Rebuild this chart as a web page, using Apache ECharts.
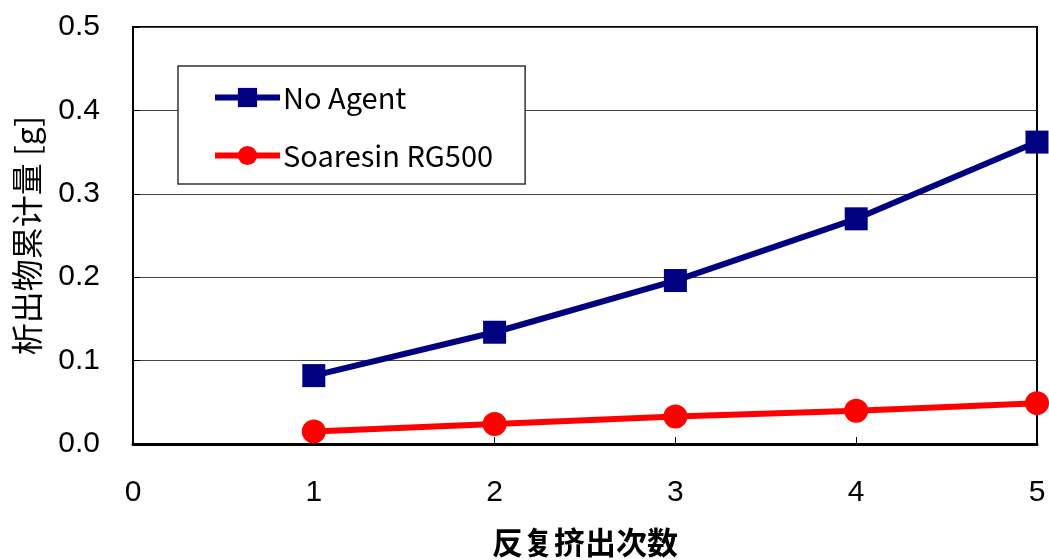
<!DOCTYPE html>
<html>
<head>
<meta charset="utf-8">
<script src="https://cdn.jsdelivr.net/npm/echarts@6/dist/echarts.min.js"></script>
<style>
  html, body { margin: 0; padding: 0; background: #fff; }
  #main { width: 1049px; height: 560px; }
</style>
</head>
<body>
<div id="main"></div>
<script>
// 数据
const runs = [1, 2, 3, 4, 5];
const noAgent = [0.082, 0.134, 0.196, 0.270, 0.362];
const soaresin = [0.015, 0.024, 0.033, 0.040, 0.049];

const chart = echarts.init(document.getElementById("main"));
const latin = "'Liberation Sans', Arial, sans-serif";
const cjk = "'Noto Sans CJK JP', 'Noto Sans CJK SC', sans-serif";

chart.setOption({
  animation: false,
  grid: {
    left: 133, right: 12, top: 27, bottom: 116,
    outerBoundsMode: "none",
    show: true, borderColor: "#000", borderWidth: 2,
  },
  legend: {
    orient: "vertical",
    left: 178, top: 66,
    padding: [17, 32, 14, 34],
    itemGap: 29,
    itemWidth: 65, itemHeight: 24,
    lineStyle: { width: 6 },
    borderColor: "#333", borderWidth: 1.5,
    backgroundColor: "#fff",
    textStyle: { fontFamily: cjk, fontSize: 29, color: "#000", padding: [0, 0, 0, -2] },
  },
  xAxis: {
    type: "value", min: 0, max: 5, interval: 1,
    name: "反复挤出次数", nameLocation: "middle", nameGap: 83,
    nameTextStyle: { fontFamily: cjk, fontSize: 31, fontWeight: "bold", color: "#000" },
    axisLine: { show: true, lineStyle: { color: "#000", width: 3 } },
    axisTick: { show: true, inside: true, length: 7, lineStyle: { color: "#000", width: 1 } },
    axisLabel: { margin: 34, fontFamily: latin, fontSize: 30, color: "#000" },
    splitLine: { show: false },
  },
  yAxis: {
    type: "value", min: 0, max: 0.5, interval: 0.1,
    name: "析出物累计量 [g]", nameLocation: "middle", nameGap: 90, nameRotate: 90,
    nameTextStyle: { fontFamily: cjk, fontSize: 32, color: "#000" },
    axisLine: { show: true, lineStyle: { color: "#000", width: 2 } },
    axisTick: { show: true, inside: true, length: 7, lineStyle: { color: "#000", width: 1 } },
    axisLabel: { margin: 33, fontFamily: latin, fontSize: 30, color: "#000",
      formatter: v => v.toFixed(1) },
    splitLine: { show: true, lineStyle: { color: "#444", width: 1 } },
  },
  series: [
    {
      name: "No Agent", type: "line",
      data: runs.map((x, i) => [x, noAgent[i]]),
      symbol: "rect", symbolSize: 23,
      lineStyle: { color: "#000080", width: 6 },
      itemStyle: { color: "#000080" },
    },
    {
      name: "Soaresin RG500", type: "line",
      data: runs.map((x, i) => [x, soaresin[i]]),
      symbol: "circle", symbolSize: 24,
      lineStyle: { color: "#ff0000", width: 6 },
      itemStyle: { color: "#ff0000" },
    },
  ],
});
</script>
</body>
</html>
